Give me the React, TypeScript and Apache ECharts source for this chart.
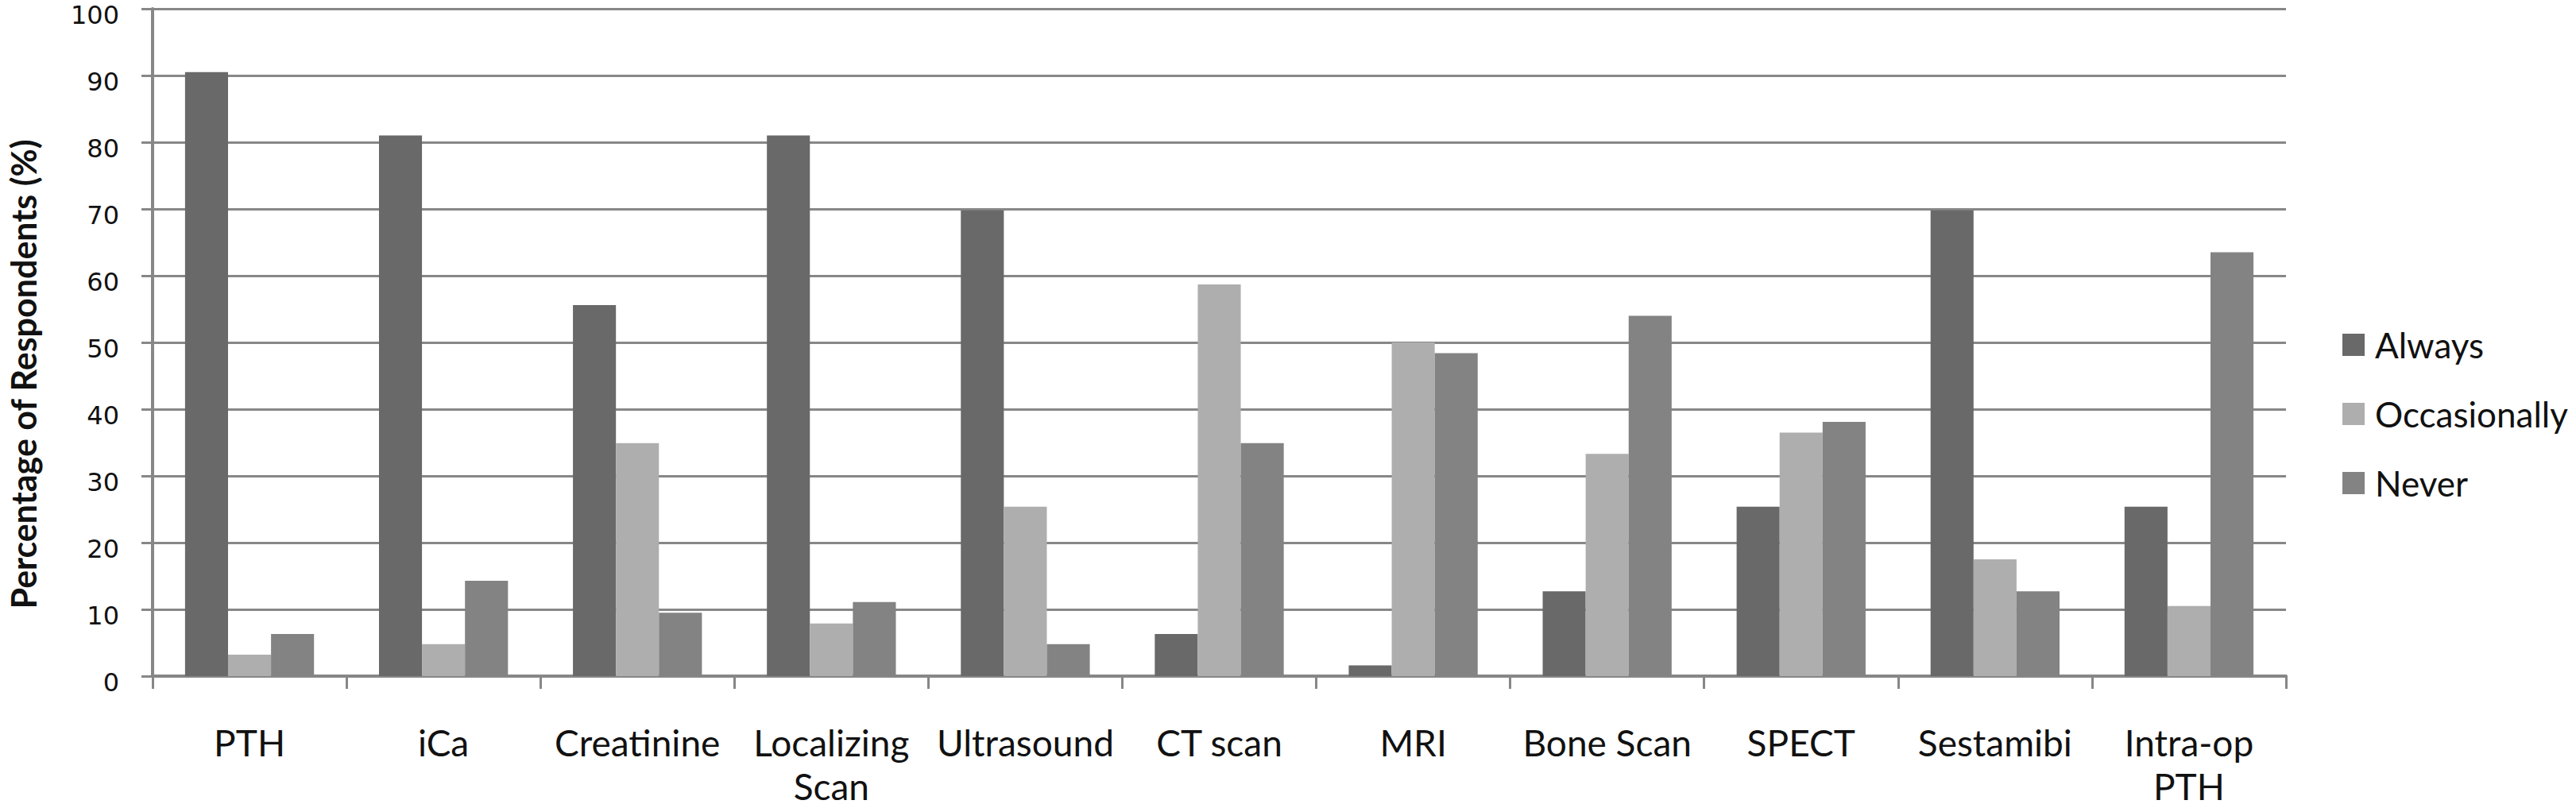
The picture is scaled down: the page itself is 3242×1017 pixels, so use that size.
import React, { useEffect, useRef } from "react";
import * as echarts from "echarts";

const categories = [
  "PTH",
  "iCa",
  "Creatinine",
  "Localizing\nScan",
  "Ultrasound",
  "CT scan",
  "MRI",
  "Bone Scan",
  "SPECT",
  "Sestamibi",
  "Intra-op\nPTH",
];
const alwaysValues = [90.5, 81.0, 55.6, 81.0, 69.8, 6.3, 1.6, 12.7, 25.4, 69.8, 25.4];
const occasionallyValues = [3.2, 4.8, 34.9, 7.9, 25.4, 58.7, 50.0, 33.3, 36.5, 17.5, 10.5];
const neverValues = [6.3, 14.3, 9.5, 11.1, 4.8, 34.9, 48.4, 54.0, 38.1, 12.7, 63.5];
const seriesNames = ["Always", "Occasionally", "Never"];
const seriesColors = ["#696969", "#aeaeae", "#838383"];
const yTitle = "Percentage of Respondents (%)";

const GRID = "#878787";
const TEXT = "#111111";
const CAL = "Lato, 'Open Sans', sans-serif";

export default function App() {
  const ref = useRef<HTMLDivElement>(null);
  useEffect(() => {
    if (!ref.current) return;
    const chart = echarts.init(ref.current, undefined, { renderer: "svg" });
    const values = [alwaysValues, occasionallyValues, neverValues];
    chart.setOption({
      animation: false,
      backgroundColor: "#ffffff",
      grid: { left: 182, right: 365, top: 11, bottom: 158, containLabel: false },
      legend: {
        orient: "vertical",
        left: 2948,
        top: 409,
        padding: 0,
        itemWidth: 28,
        itemHeight: 28,
        itemGap: 37,
        icon: "rect",
        textStyle: { fontFamily: CAL, fontSize: 44, lineHeight: 50, color: TEXT, padding: [0, 0, 0, 8] },
        data: seriesNames,
      },
      xAxis: {
        type: "category",
        data: categories,
        axisLine: { show: true, lineStyle: { color: GRID, width: 4 } },
        axisTick: { show: true, length: 16, lineStyle: { color: GRID, width: 3 } },
        axisLabel: {
          margin: 56,
          fontFamily: CAL,
          fontSize: 46,
          lineHeight: 55,
          color: TEXT,
          interval: 0,
        },
      },
      yAxis: {
        type: "value",
        min: 0,
        max: 100,
        interval: 10,
        name: yTitle,
        nameLocation: "middle",
        nameGap: 141,
        nameTextStyle: {
          fontFamily: "'Liberation Sans Narrow', 'Arial Narrow', Lato, sans-serif",
          fontWeight: "bold",
          fontSize: 43,
          color: TEXT,
          padding: [0, 80, 0, 0],
        },
        axisLine: { show: true, lineStyle: { color: GRID, width: 4 } },
        axisTick: { show: true, length: 14, lineStyle: { color: GRID, width: 3 } },
        splitLine: { show: true, lineStyle: { color: GRID, width: 3 } },
        axisLabel: {
          margin: 42,
          fontFamily: "'DejaVu Sans', Verdana, sans-serif",
          fontSize: 32,
          lineHeight: 16,
          verticalAlign: "top",
          color: TEXT,
        },
      },
      series: seriesNames.map((name, i) => ({
        name,
        type: "bar",
        data: values[i],
        barGap: "0%",
        barCategoryGap: "33.5%",
        itemStyle: { color: seriesColors[i] },
      })),
    });
    return () => chart.dispose();
  }, []);
  return (
    <div
      ref={ref}
      style={{ position: "absolute", left: 0, top: 0, width: 3242, height: 1017, background: "#fff" }}
    />
  );
}
